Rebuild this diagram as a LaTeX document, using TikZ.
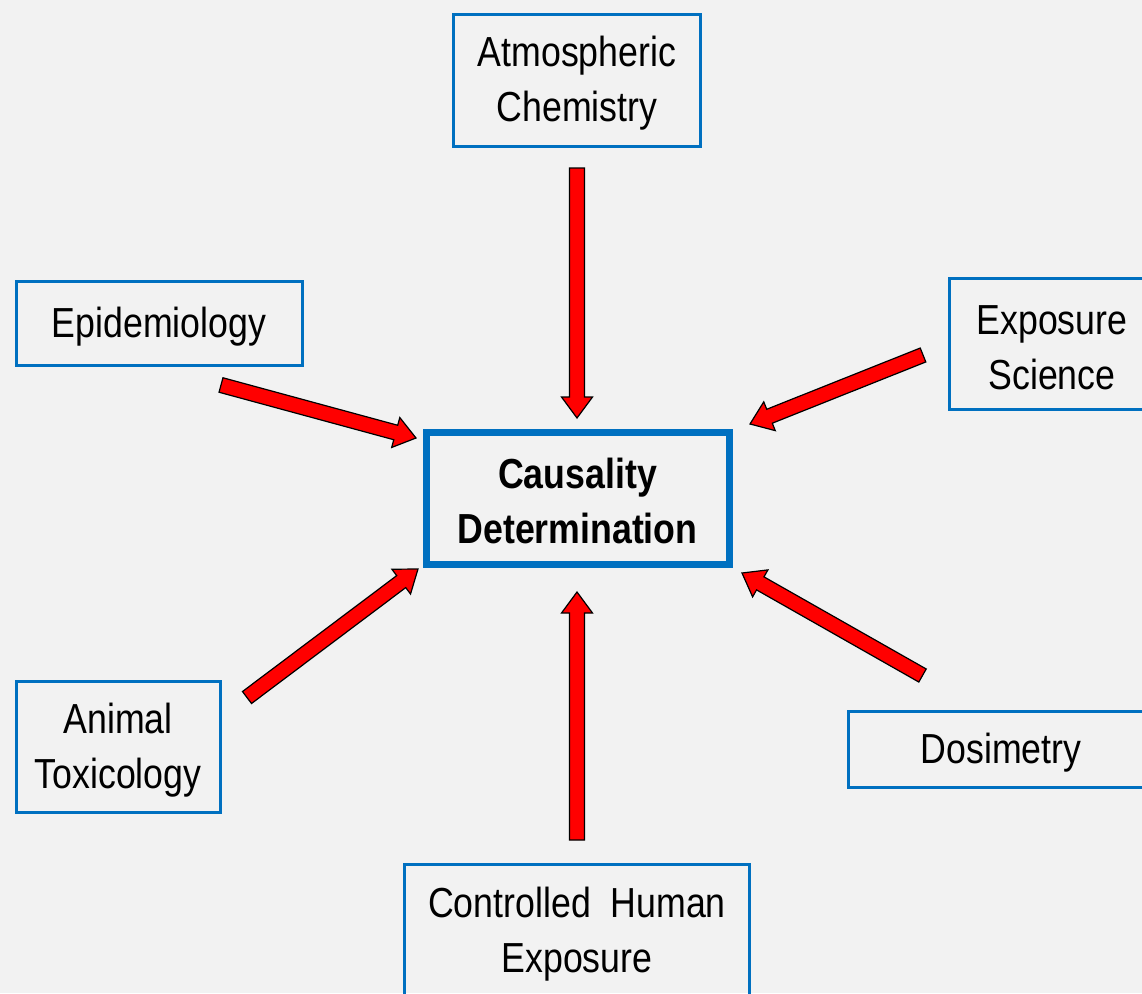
\documentclass[tikz,border=0pt]{standalone}
\usepackage{fontspec}
\setmainfont{Liberation Sans}
\usepackage{graphicx}
\usetikzlibrary{calc}
\definecolor{bg}{HTML}{F2F2F2}
\definecolor{boxblue}{HTML}{0070C0}
\definecolor{arrred}{HTML}{FF0000}
\newcommand{\sq}[1]{\scalebox{0.85}[1]{#1}}
\newcommand{\tup}{\rule{0pt}{37pt}}
\newcommand{\blockarr}[2]{%
  \coordinate (ba-n) at ($(#2)!21pt!(#1)$);
  \filldraw[barrow] ($(#1)!7.5pt!90:(#2)$) -- ($(ba-n)!7.5pt!90:(#2)$) -- ($(ba-n)!15.5pt!90:(#2)$) -- (#2)
    -- ($(ba-n)!15.5pt!-90:(#2)$) -- ($(ba-n)!7.5pt!-90:(#2)$) -- ($(#1)!7.5pt!-90:(#2)$) -- cycle;}
\tikzset{
  x=1pt, y=-1pt,
  topic/.style={draw=boxblue, line width=3pt, inner sep=0pt, align=center,
    font=\fontsize{42}{55}\selectfont},
  central/.style={topic, line width=7pt, font=\fontsize{42}{55}\selectfont\bfseries},
  barrow/.style={fill=arrred, draw=black, line width=1.2pt, line join=miter},
}
\begin{document}
\begin{tikzpicture}
\useasboundingbox (0,0) rectangle (1142,993);
\fill[bg] (0,0) rectangle (1142,993);
\begin{scope}
\clip (0,0) rectangle (1142,993);
\node[topic, minimum width=247, minimum height=132] (atm) at (577,80) {\tup\sq{Atmospheric}\\\sq{Chemistry}};
\node[topic, minimum width=286, minimum height=84] (epi) at (159,323.5) {\tup\sq{Epidemiology}};
\node[topic, minimum width=206, minimum height=131] (exp) at (1052,343.5) {\tup\sq{Exposure}\\\sq{Science}};
\node[central, minimum width=303, minimum height=132] (caus) at (577.5,498) {\tup\sq{Causality}\\\sq{Determination}};
\node[topic, minimum width=204, minimum height=131] (ani) at (118,747) {\tup\sq{Animal}\\\sq{Toxicology}};
\node[topic, minimum width=306, minimum height=76] (dos) at (1001,749) {\tup\sq{Dosimetry}};
\node[topic, minimum width=345, minimum height=133] (chx) at (577,931) {\tup\sq{Controlled\ \ Human}\\\sq{Exposure}};
\end{scope}
\coordinate (atm-s) at (577,168);   \coordinate (atm-e) at (577,418);
\coordinate (chx-s) at (577,840);   \coordinate (chx-e) at (577,592);
\coordinate (epi-s) at (221,385);   \coordinate (epi-e) at (416,438);
\coordinate (exp-s) at (923,355);   \coordinate (exp-e) at (750,424);
\coordinate (ani-s) at (247,697.5); \coordinate (ani-e) at (418,569);
\coordinate (dos-s) at (922.5,675.5); \coordinate (dos-e) at (742,573);
\blockarr{atm-s}{atm-e}
\blockarr{chx-s}{chx-e}
\blockarr{epi-s}{epi-e}
\blockarr{exp-s}{exp-e}
\blockarr{ani-s}{ani-e}
\blockarr{dos-s}{dos-e}
\end{tikzpicture}
\end{document}
